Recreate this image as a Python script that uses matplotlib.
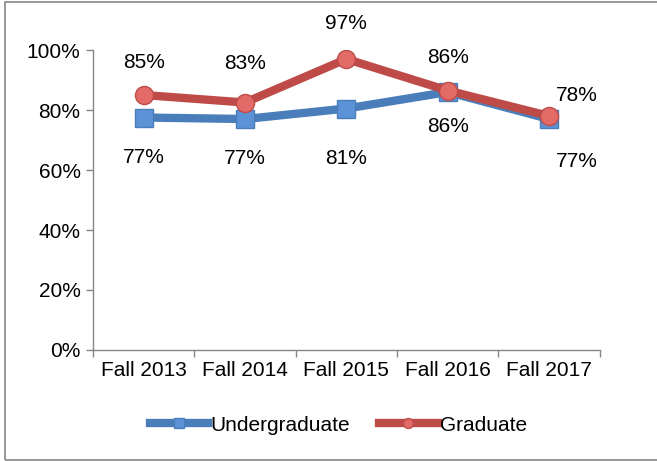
import matplotlib
matplotlib.use("Agg")
import matplotlib.pyplot as plt
from matplotlib.patches import Rectangle
from matplotlib.ticker import FuncFormatter

plt.rcParams['font.family'] = ['Liberation Sans', 'DejaVu Sans']

terms = ['Fall 2013', 'Fall 2014', 'Fall 2015', 'Fall 2016', 'Fall 2017']
undergrad = [0.775, 0.77, 0.805, 0.86, 0.77]
grad = [0.85, 0.825, 0.97, 0.865, 0.78]
undergrad_labels = ['77%', '77%', '81%', '86%', '77%']
grad_labels = ['85%', '83%', '97%', '86%', '78%']

# label offsets in pixels (dx, dy) from each point
grad_off = [(0, 33), (0, 39), (0, 36), (0, 33), (28, 21)]
under_off = [(0, -40), (0, -39), (0, -50), (0, -34), (28, -42)]

fig = plt.figure(figsize=(6.57, 4.61), dpi=100)
ax = fig.add_axes([0.1416, 0.2408, 0.7714, 0.6507])

x = list(range(len(terms)))
ax.plot(x, undergrad, color='#4A7EBB', lw=6, marker='s', ms=13,
        mfc='#5B93D6', mec='#4A7EBB', mew=1, label='Undergraduate', zorder=3)
ax.plot(x, grad, color='#BE4B48', lw=6, marker='o', ms=13,
        mfc='#E26B68', mec='#BE4B48', mew=1, label='Graduate', zorder=4)

px = 0.72
for i, (v, t) in enumerate(zip(grad, grad_labels)):
    dx, dy = grad_off[i]
    ax.annotate(t, (i, v), xytext=(dx * px, dy * px), textcoords='offset points',
                ha='center', va='center', fontsize=15)
for i, (v, t) in enumerate(zip(undergrad, undergrad_labels)):
    dx, dy = under_off[i]
    ax.annotate(t, (i, v), xytext=(dx * px, dy * px), textcoords='offset points',
                ha='center', va='center', fontsize=15)

ax.set_xlim(-0.5, len(x) - 0.5)
ax.set_ylim(0, 1.0)
ax.set_yticks([0, 0.2, 0.4, 0.6, 0.8, 1.0])
ax.yaxis.set_major_formatter(FuncFormatter(lambda v, p: '%d%%' % round(v * 100)))
ax.set_xticks(x)
ax.set_xticklabels(terms)
ax.set_xticks([i - 0.5 for i in range(len(x) + 1)], minor=True)
ax.tick_params(axis='x', which='major', length=0, pad=8, labelsize=15)
ax.tick_params(axis='x', which='minor', length=5, color='#868686', width=1)
ax.tick_params(axis='y', length=5, color='#868686', width=1, labelsize=15, pad=4)

for s in ['top', 'right']:
    ax.spines[s].set_visible(False)
for s in ['left', 'bottom']:
    ax.spines[s].set_color('#868686')
    ax.spines[s].set_linewidth(1)

fig.legend(loc='center', bbox_to_anchor=(0.515, 0.078), ncol=2, frameon=False,
           fontsize=15, handlelength=2.8, handletextpad=0.1, columnspacing=1.4,
           markerscale=0.55)

fig.patches.append(Rectangle((5 / 657, 1.5 / 461), 1.1, 457 / 461, transform=fig.transFigure,
                             fill=False, edgecolor='#868686', lw=1.2, clip_on=False))

fig.savefig('out.png', dpi=100)
